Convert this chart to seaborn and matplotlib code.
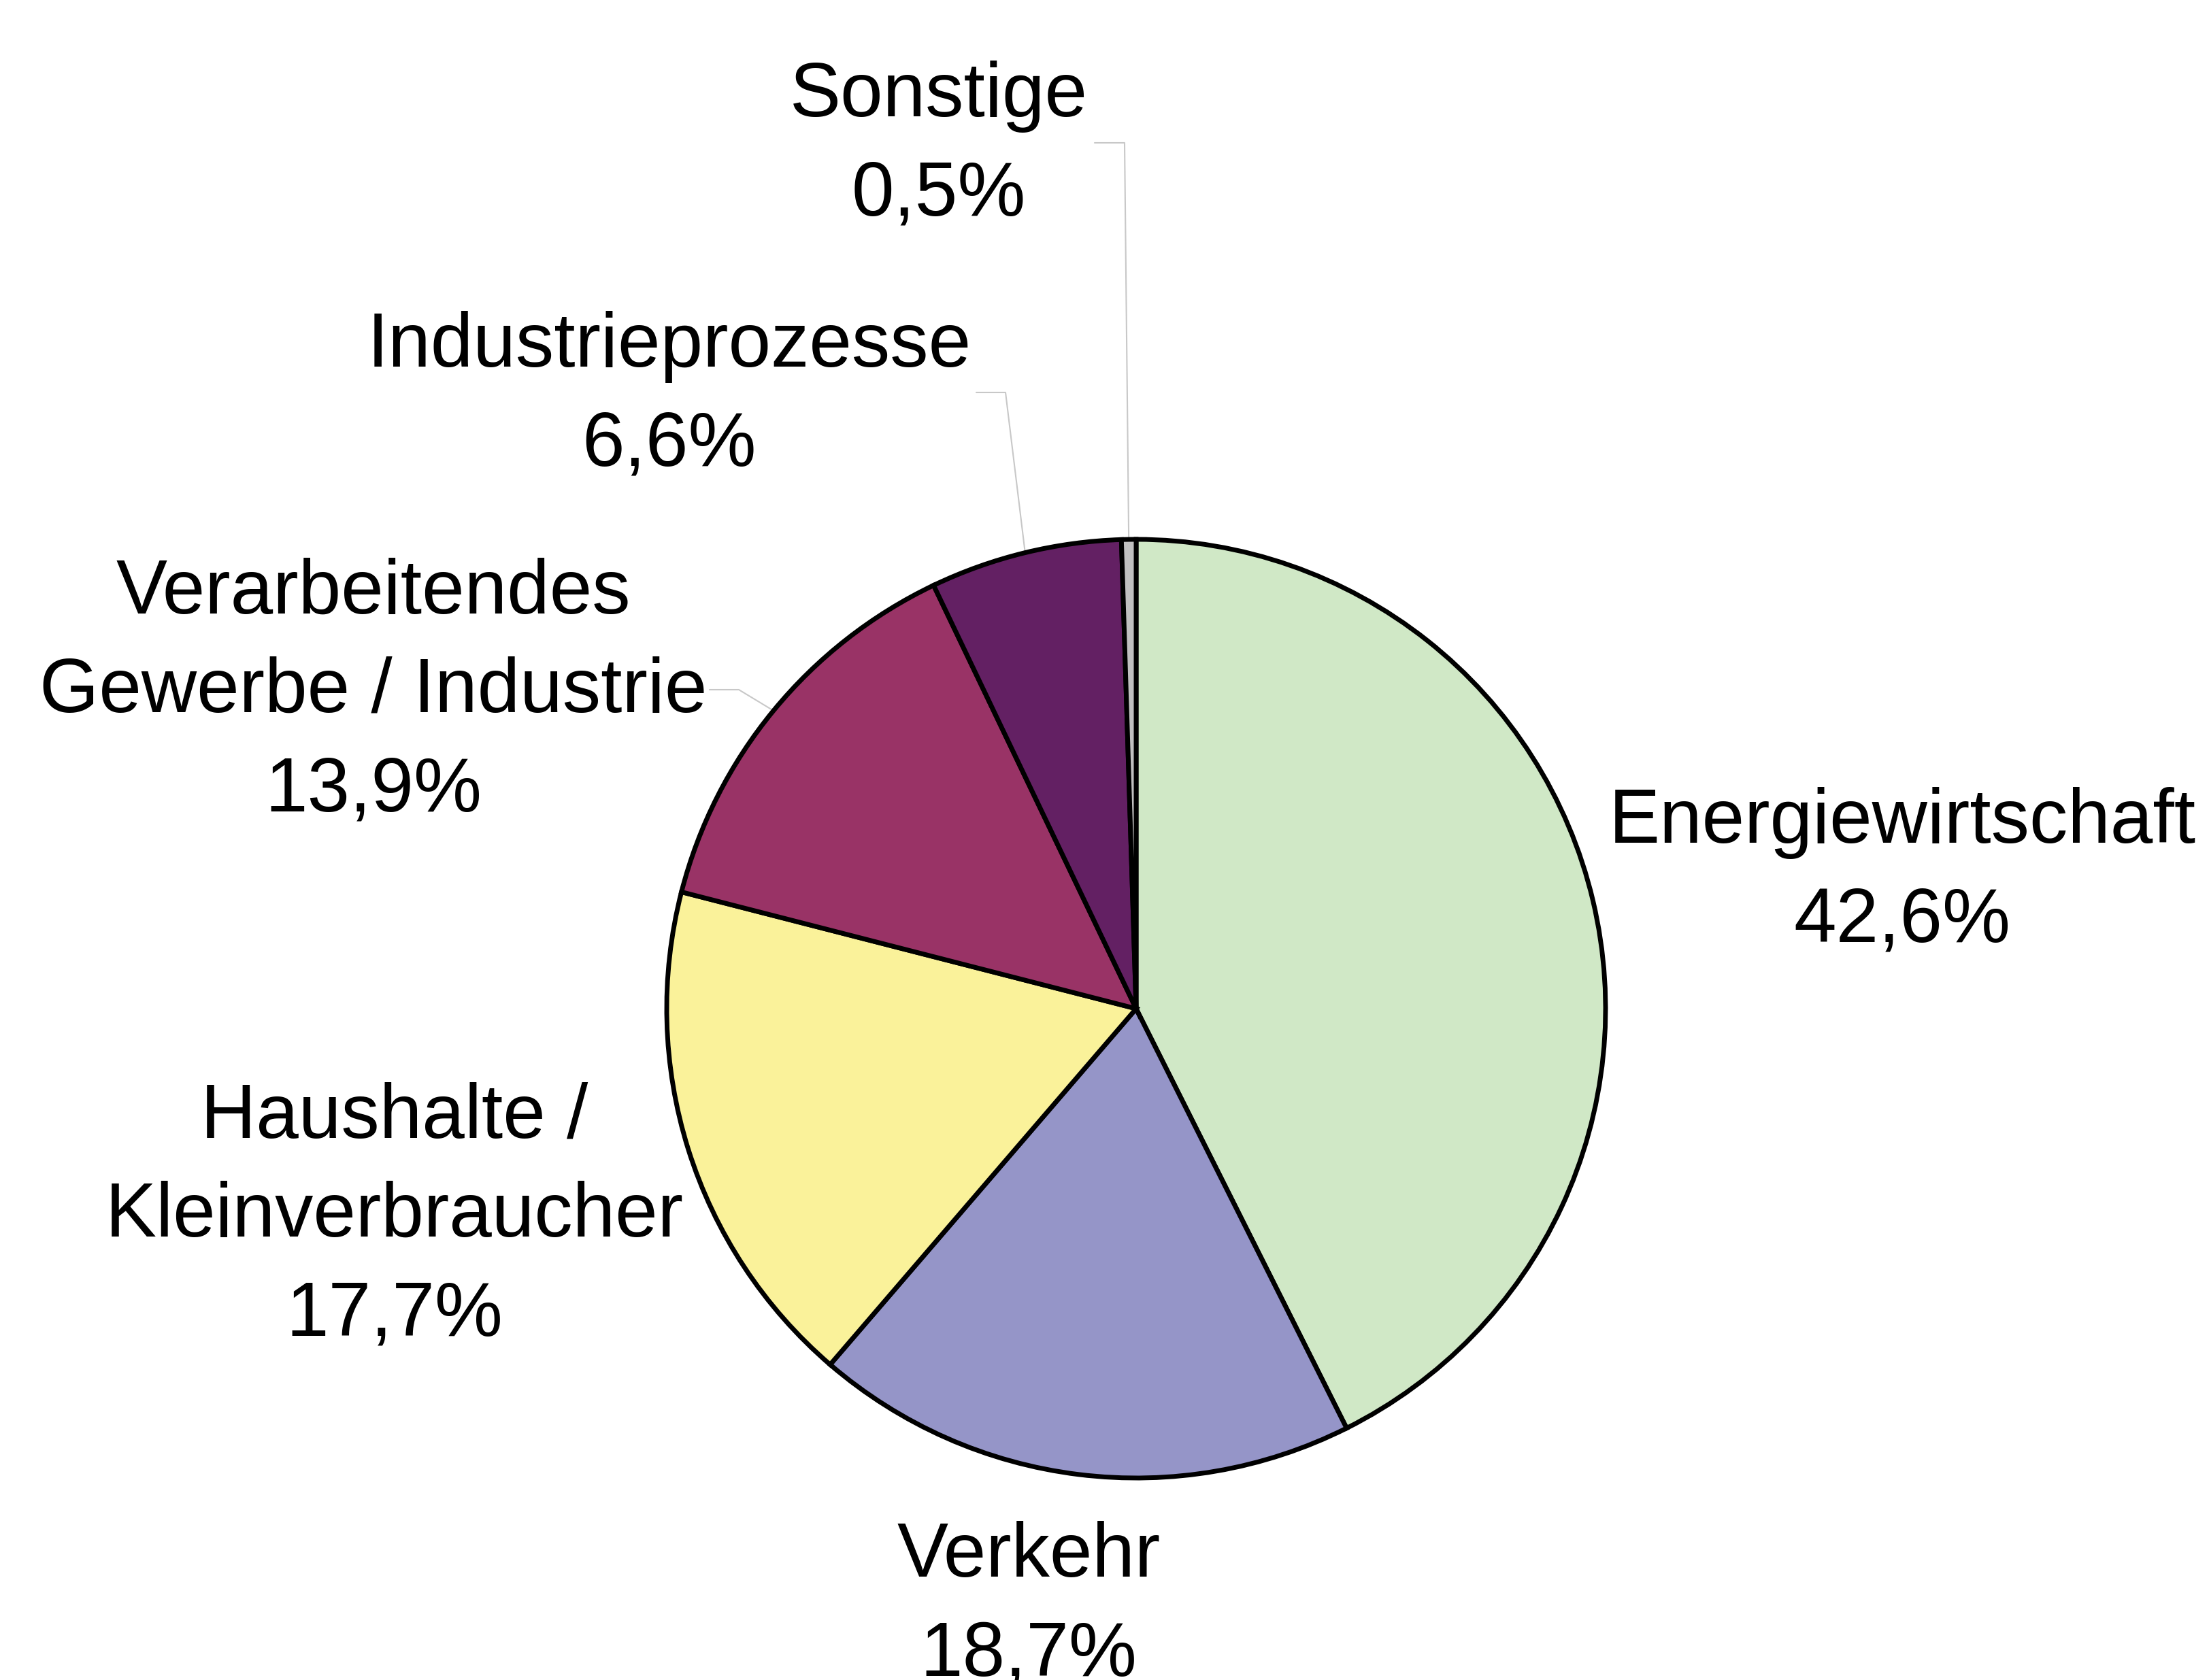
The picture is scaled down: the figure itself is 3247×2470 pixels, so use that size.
import numpy as np
import matplotlib
matplotlib.use('Agg')
import matplotlib.pyplot as plt
import seaborn as sns

# Emissions share by sector (clockwise from 12 o'clock)
sectors = ["Energiewirtschaft", "Verkehr", "Haushalte /\nKleinverbraucher",
           "Verarbeitendes\nGewerbe / Industrie", "Industrieprozesse", "Sonstige"]
shares = [42.6, 18.7, 17.7, 13.9, 6.6, 0.5]
colors = ["#D0E8C6", "#9595C8", "#FAF29A", "#993366", "#632063", "#C0C0C0"]

W, H = 3248, 2470

sns.set_theme(style="white")
plt.rcParams['font.family'] = ['Liberation Sans', 'DejaVu Sans']

fig = plt.figure(figsize=(W / 100, H / 100), dpi=100)
ax = fig.add_axes([0, 0, 1, 1])

cx, cy, r = 1670, H - 1483, 690
wedges, _ = ax.pie(shares, colors=colors, startangle=90, counterclock=False,
                   center=(cx, cy), radius=r, frame=True,
                   wedgeprops=dict(edgecolor='black', linewidth=5))
ax.set_xlim(0, W)
ax.set_ylim(0, H)
ax.set_aspect('equal')
ax.axis('off')

# label block centres (pixel positions, y from top)
label_pos = [(2796, 1283), (1512, 2362), (580, 1789), (549, 1018), (984, 583), (1380, 215)]
for name, val, (lx, ly) in zip(sectors, shares, label_pos):
    txt = f"{name}\n{val:.1f}%".replace('.', ',')
    ax.text(lx, H - ly, txt, ha='center', va='center', fontsize=81,
            linespacing=1.48, color='black')

# leader lines for the small wedges: (wedge index, elbow, text end)
leaders = [(5, (1653, 210), (1609, 210)),
           (4, (1478, 577), (1435, 577)),
           (3, (1086, 1014), (1043, 1014))]
for i, (ex, ey), (tx, ty) in leaders:
    w = wedges[i]
    mid = np.deg2rad((w.theta1 + w.theta2) / 2)
    px, py = cx + r * np.cos(mid), cy + r * np.sin(mid)
    ax.plot([px, ex, tx], [py, H - ey, H - ty], color='#C8C8C8', lw=1.5,
            zorder=0)

fig.savefig("out.png", dpi=100, facecolor='white')
